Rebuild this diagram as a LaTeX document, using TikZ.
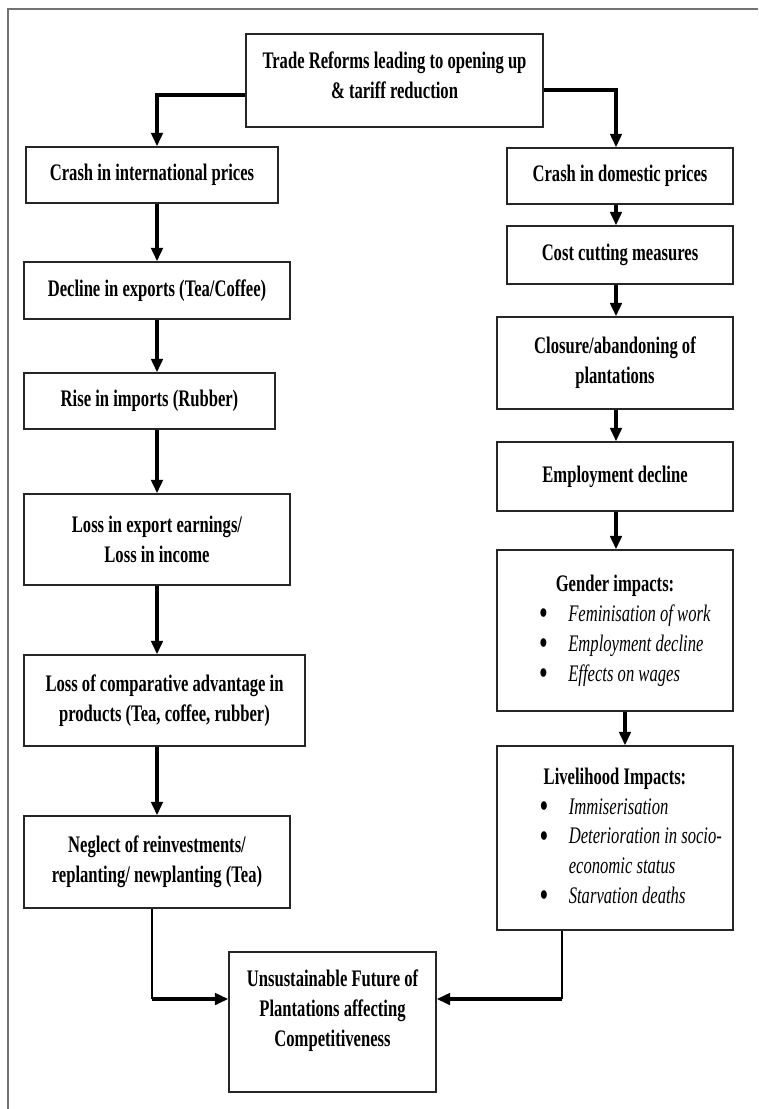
\documentclass[tikz,border=0pt]{standalone}
\usepackage{fontspec}
\setmainfont{Liberation Serif}[FakeStretch=0.7]
\usepackage{tikz}
\usepackage{xcolor}
\usetikzlibrary{calc}
\usetikzlibrary{arrows.meta}

\newcommand{\puce}{\raisebox{-1.2pt}{\fontsize{18}{17}\selectfont\textbullet}}

\begin{document}
\begin{tikzpicture}[x=0.02cm, y=-0.02cm]

\tikzset{
    box/.style = {
    draw=black!85,
    line width=0.8pt,
    align=center,
    inner sep=2pt,
    font=\fontsize{13.5}{17}\selectfont\bfseries
    }
}

\tikzstyle{lien}=[line width=2.2pt, -{Triangle[length=0.27cm, width=0.23cm]}]
\tikzstyle{filet}=[line width=1.2pt]

\useasboundingbox (0,0) rectangle (758,1109);

% cadre
\draw[black!55, line width=1pt] (8,1109) -- (8,9) -- (758,9);

\node (trade) [box, minimum width=5.94cm, minimum height=1.86cm, text depth=0.2cm] at (394.5,80.5)
    {Trade Reforms leading to opening up\\ \& tariff reduction};

\node (intl) [box, minimum width=5.04cm, minimum height=1.12cm] at (152,175)
    {Crash in international prices};
\node (decline) [box, minimum width=5.32cm, minimum height=1.14cm] at (157,290.5)
    {Decline in exports (Tea/Coffee)};
\node (imports) [box, minimum width=5.02cm, minimum height=1.12cm] at (149.5,401)
    {Rise in imports (Rubber)};
\node (earnings) [box, minimum width=5.32cm, minimum height=1.82cm] at (157,539.5)
    {Loss in export earnings/\\ Loss in income};
\node (compadv) [box, minimum width=5.62cm, minimum height=1.82cm] at (164.5,700.5)
    {Loss of comparative advantage in\\ products (Tea, coffee, rubber)};
\node (neglect) [box, minimum width=5.32cm, minimum height=1.84cm] at (157,862)
    {Neglect of reinvestments/\\ replanting/ newplanting (Tea)};

\node (domestic) [box, minimum width=4.52cm, minimum height=1.12cm] at (620,176)
    {Crash in domestic prices};
\node (costcut) [box, minimum width=4.52cm, minimum height=1.16cm] at (620,255)
    {Cost cutting measures};
\node (closure) [box, minimum width=4.72cm, minimum height=1.84cm] at (615,363)
    {Closure/abandoning of\\ plantations};
\node (employ) [box, minimum width=4.72cm, minimum height=1.38cm] at (615,476.5)
    {Employment decline};
\node (gender) [box, minimum width=4.72cm, minimum height=3.22cm] at (615,630.5)
    {\hspace*{0.4cm}\begin{tabular}{@{}c@{\hspace{0.42cm}}l@{}}
    \multicolumn{2}{c}{\hspace*{-0.4cm}Gender impacts:}\\
    \puce & \mdseries\itshape Feminisation of work\\
    \puce & \mdseries\itshape Employment decline\\
    \puce & \mdseries\itshape Effects on wages
    \end{tabular}};
\node (livelihood) [box, minimum width=4.72cm, minimum height=3.68cm] at (615,838)
    {\hspace*{0.64cm}\begin{tabular}{@{}c@{\hspace{0.42cm}}l@{}}
    \multicolumn{2}{c}{\hspace*{-0.64cm}Livelihood Impacts:}\\
    \puce & \mdseries\itshape Immiserisation\\
    \puce & \mdseries\itshape Deterioration in socio-\\
          & \mdseries\itshape economic status\\
    \puce & \mdseries\itshape Starvation deaths
    \end{tabular}};

\node (future) [box, minimum width=4.14cm, minimum height=2.8cm, text depth=0.56cm] at (332.5,1022)
    {Unsustainable Future of\\ Plantations affecting\\ Competitiveness};

\coordinate (lcol) at (157,0);
\coordinate (rcol) at (616,0);
\coordinate (rcolb) at (625,0);
\coordinate (tl) at (0,95);
\coordinate (tr) at (0,90);
\coordinate (bl) at (152,999);
\coordinate (br) at (562,999);

\draw[lien] (trade.west |- tl) -| (intl.north -| lcol);
\draw[lien] (trade.east |- tr) -| (domestic.north -| rcol);

\foreach \a/\b in {intl/decline, decline/imports, imports/earnings, earnings/compadv, compadv/neglect}{
    \draw[lien] (\a.south -| lcol) -- (\b.north -| lcol);
}
\foreach \a/\b in {domestic/costcut, costcut/closure, closure/employ, employ/gender}{
    \draw[lien] (\a.south -| rcol) -- (\b.north -| rcol);
}
\draw[lien] (gender.south -| rcolb) -- (livelihood.north -| rcolb);

\draw[filet] (neglect.south -| bl) -- (bl);
\draw[lien] (bl) -- (future.west |- bl);
\draw[filet] (livelihood.south -| br) -- (br);
\draw[lien] (br) -- (future.east |- br);

\end{tikzpicture}
\end{document}
